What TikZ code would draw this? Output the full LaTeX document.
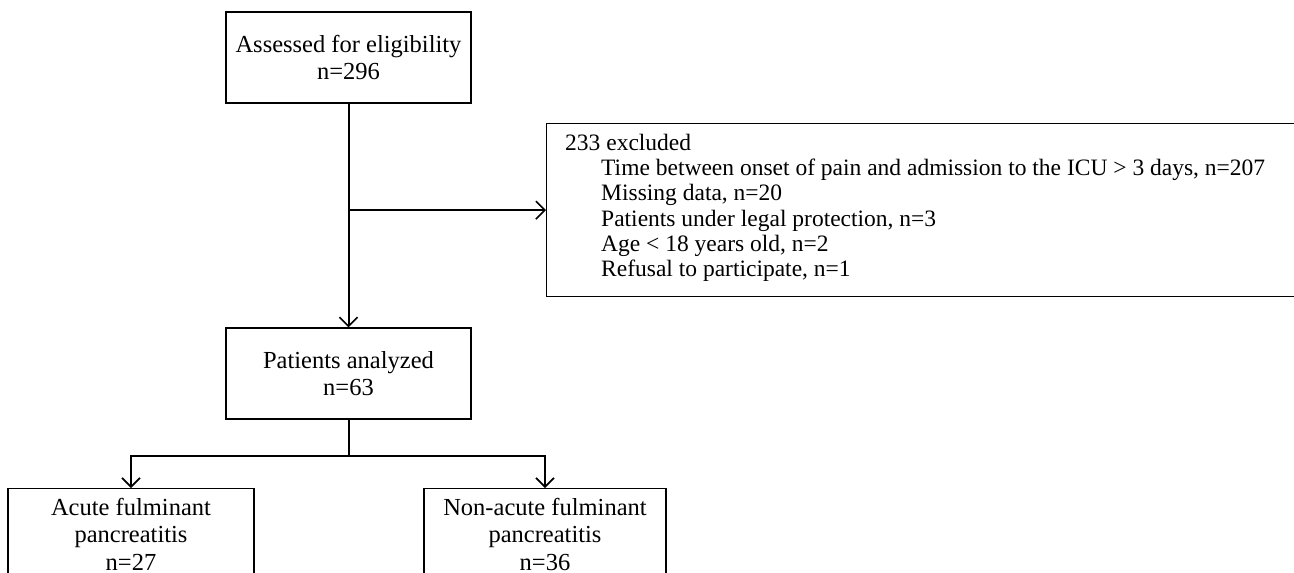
\documentclass[tikz,border=0pt]{standalone}
\usepackage{fontspec}
\setmainfont{Liberation Serif}
\usetikzlibrary{arrows.meta}
\begin{document}
\begin{tikzpicture}[x=1pt,y=1pt,
  box/.style={draw, line width=1.3pt, rectangle, inner sep=0pt, align=center,
    minimum width=245pt, minimum height=91pt,
    font=\fontsize{24.5}{27.5}\selectfont},
  arr/.style={line width=2pt, -{Straight Barb[length=9pt,width=18pt,line width=1.6pt]}},
  ln/.style={line width=2pt}]
\clip (0,0) rectangle (1294,-573);
\useasboundingbox (0,0) rectangle (1294,-573);
\node[box] (top) at (348.5,-57.5) {Assessed for eligibility\\n=296};
\node[box] (pat) at (348.5,-373.5) {Patients analyzed\\n=63};
\node[box, anchor=north, minimum width=246pt] (acute) at (131,-488) {Acute fulminant\\pancreatitis\\n=27};
\node[box, anchor=north, minimum width=242pt] (nonacute) at (545,-488) {Non-acute fulminant\\pancreatitis\\n=36};
\node[draw, line width=1.3pt, rectangle, anchor=north west, minimum width=760pt, minimum height=173pt] (excl) at (546,-123) {};
\node[anchor=north west, inner sep=0pt, align=left, font=\fontsize{23.5}{25.2}\selectfont] (excltext) at (565,-134)
  {233 excluded\\
  \hspace*{36pt}Time between onset of pain and admission to the ICU > 3 days, n=207\\
  \hspace*{36pt}Missing data, n=20\\
  \hspace*{36pt}Patients under legal protection, n=3\\
  \hspace*{36pt}Age < 18 years old, n=2\\
  \hspace*{36pt}Refusal to participate, n=1};
\draw[arr] (top.south) -- (pat.north);
\coordinate (branch) at (top.south |- excl.west);
\draw[arr] (branch) -- (excl.west);
\draw[ln] (pat.south) -- ++(0,-36) coordinate (split);
\draw[ln] ([xshift=-1pt]split -| acute.north) -- ([xshift=1pt]split -| nonacute.north);
\draw[arr] (split -| acute.north) -- (acute.north);
\draw[arr] (split -| nonacute.north) -- (nonacute.north);
\end{tikzpicture}
\end{document}
